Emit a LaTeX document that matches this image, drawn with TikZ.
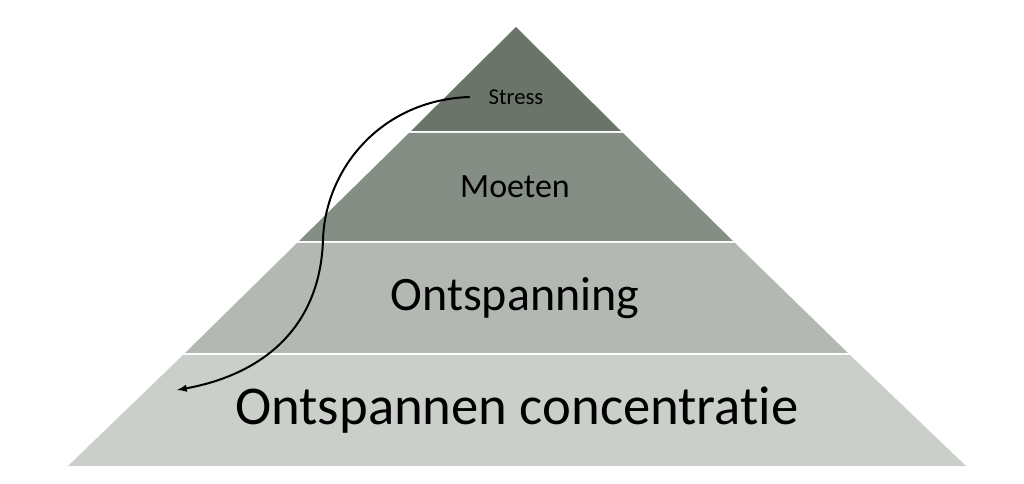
\documentclass[tikz,border=0pt]{standalone}
\usepackage{fontspec}
\setmainfont[Ligatures=NoCommon]{Carlito}
\begin{document}
\begin{tikzpicture}[x=0.75pt,y=-0.75pt,
  lbl/.style={inner sep=0pt,text=black}]
\useasboundingbox (0,0) rectangle (1024,484);
\fill[fill={rgb,255:red,107;green,116;blue,105}] (516,27) -- (621,131) -- (411,131) -- cycle;
\fill[fill={rgb,255:red,133;green,142;blue,133}] (409,133) -- (623,133) -- (733,241) -- (299,241) -- cycle;
\fill[fill={rgb,255:red,179;green,184;blue,179}] (297,243) -- (735,243) -- (848,353) -- (185,353) -- cycle;
\fill[fill={rgb,255:red,202;green,207;blue,202}] (183,355) -- (850,355) -- (966,466) -- (68,466) -- cycle;
\node[lbl,font=\fontsize{17}{20}\selectfont] (s) at (516,97) {Stress};
\node[lbl,font=\fontsize{25.5}{30}\selectfont] (m) at (515,187) {Moeten};
\node[lbl,font=\fontsize{36}{42}\selectfont] (o) at (515,298) {Ontspanning};
\node[lbl,font=\fontsize{41}{48}\selectfont] (c) at (517,410) {Ontspannen concentratie};
\coordinate (e) at (177,390);
\draw[line width=1.5pt,-latex] ([xshift=-14pt]s.west) .. controls (380,100) and (325,170) .. (323,240) .. controls (320,330) and (260,375) .. (e);
\end{tikzpicture}
\end{document}
